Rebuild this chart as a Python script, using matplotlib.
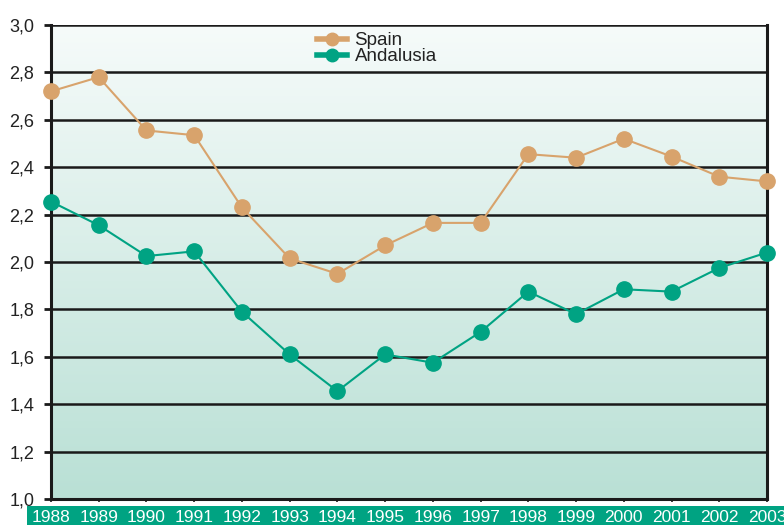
import matplotlib
matplotlib.use("Agg")
import matplotlib.pyplot as plt
import numpy as np
from matplotlib.colors import LinearSegmentedColormap
from matplotlib.patches import Rectangle

plt.rcParams['font.family'] = ['Liberation Sans', 'DejaVu Sans']

years = [1988, 1989, 1990, 1991, 1992, 1993, 1994, 1995, 1996, 1997,
         1998, 1999, 2000, 2001, 2002, 2003]
spain = [2.72, 2.78, 2.555, 2.535, 2.23, 2.015, 1.95, 2.07, 2.165, 2.165,
         2.455, 2.44, 2.52, 2.445, 2.36, 2.34]
andalusia = [2.255, 2.155, 2.025, 2.045, 1.79, 1.61, 1.455, 1.61, 1.575, 1.705,
             1.875, 1.78, 1.885, 1.875, 1.975, 2.04]
yticks = [1.0, 1.2, 1.4, 1.6, 1.8, 2.0, 2.2, 2.4, 2.6, 2.8, 3.0]
ytick_labels = ["1,0", "1,2", "1,4", "1,6", "1,8", "2,0", "2,2", "2,4", "2,6", "2,8", "3,0"]

spain_color = "#d8a36c"
anda_color = "#00a383"
band_color = "#00a382"

fig = plt.figure(figsize=(7.84, 5.25), dpi=100)
ax = fig.add_axes([51/784, 1 - 499/525, (767 - 51)/784, (499 - 25)/525])

# gradient background
cmap = LinearSegmentedColormap.from_list("bg", ["#b9e0d5", "#f6fbfa"])
grad = np.linspace(0, 1, 256).reshape(-1, 1)
ax.imshow(grad, aspect='auto', cmap=cmap, origin='lower',
          extent=[years[0], years[-1], 1.0, 3.0], zorder=0)

for y in yticks[1:]:
    ax.axhline(y, color="#1a1a1a", lw=1.8, zorder=1)

ax.plot(years, spain, color=spain_color, lw=1.5, marker='o', markersize=11,
        label="Spain", zorder=3, clip_on=False)
ax.plot(years, andalusia, color=anda_color, lw=1.5, marker='o', markersize=11,
        label="Andalusia", zorder=3, clip_on=False)

ax.set_xlim(years[0], years[-1])
ax.set_ylim(1.0, 3.0)
ax.set_yticks(yticks)
ax.set_yticklabels(ytick_labels, fontsize=13, color="#222222")
ax.set_xticks(years)
ax.set_xticklabels([str(y) for y in years], fontsize=12.5, color="white")
ax.tick_params(axis='y', direction='out', length=5, width=2, color="#1a1a1a", pad=7)
ax.tick_params(axis='x', direction='out', length=2, width=1.2, color="#1a1a1a", pad=6)

for side in ['left', 'right', 'bottom']:
    ax.spines[side].set_linewidth(2.2)
    ax.spines[side].set_color("#1a1a1a")
ax.spines['top'].set_visible(False)

fig.patches.append(Rectangle((27/784, 0), 1 - 27/784, 19/525, transform=fig.transFigure,
                             facecolor=band_color, edgecolor='none', zorder=-1))

leg = ax.legend(loc='upper left', bbox_to_anchor=(317/784, 1 - 32/525),
                bbox_transform=fig.transFigure, frameon=False, fontsize=13.5,
                handlelength=1.6, handletextpad=0.4, labelspacing=-0.05,
                borderaxespad=0, borderpad=0)
for t in leg.get_texts():
    t.set_color("#222222")
for h in leg.get_lines():
    h.set_linewidth(4)
    h.set_markersize(9)

fig.savefig("out.png", dpi=100)
